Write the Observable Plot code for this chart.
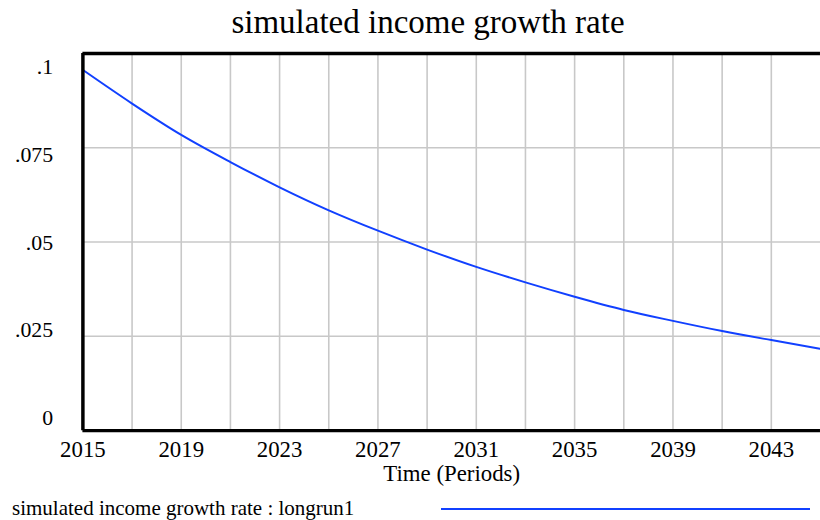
<!DOCTYPE html>
<html>
<head>
<meta charset="utf-8">
<script src="https://cdn.jsdelivr.net/npm/d3@7"></script>
<script src="https://cdn.jsdelivr.net/npm/@observablehq/plot@0.6"></script>
<style>
  html, body { margin: 0; padding: 0; background: #fff; overflow: hidden; }
  #wrap { position: relative; width: 820px; height: 520px; overflow: hidden; font-family: "Liberation Serif", "Times New Roman", serif; color: #000; }
  #title { position: absolute; left: 0; top: 4px; width: 856px; text-align: center; font-size: 33px; white-space: nowrap; }
  #chart { position: absolute; left: 0; top: 40px; }
  #legend-text { position: absolute; left: 12px; top: 496px; font-size: 21px; white-space: nowrap; }
  #legend-line { position: absolute; left: 441px; top: 508px; width: 369px; height: 0; border-top: 2px solid #1140ff; }
</style>
</head>
<body>
<div id="wrap">
  <div id="title"></div>
  <div id="chart"></div>
  <div id="legend-text"></div>
  <div id="legend-line"></div>
</div>
<script>
// ---- data ----
const chartTitle = "simulated income growth rate";
const xLabel = "Time (Periods)";
const seriesLabel = "simulated income growth rate : longrun1";
const years = [2015, 2017, 2019, 2021, 2023, 2025, 2027, 2029, 2031, 2033, 2035, 2037, 2039, 2041, 2043, 2045];
const rate  = [0.0956, 0.0867, 0.0784, 0.0712, 0.0645, 0.0584, 0.0530, 0.0480, 0.0434, 0.0393, 0.0355, 0.0320, 0.0291, 0.0264, 0.0240, 0.0217];
const xTickLabels = [2015, 2019, 2023, 2027, 2031, 2035, 2039, 2043];
const xGridYears = [2017, 2019, 2021, 2023, 2025, 2027, 2029, 2031, 2033, 2035, 2037, 2039, 2041, 2043];
const yTicks = [0, 0.025, 0.05, 0.075, 0.1];
const yTickLabels = ["0", ".025", ".05", ".075", ".1"];
const yGridValues = [0.025, 0.05, 0.075];

const data = years.map((t, i) => ({t, v: rate[i]}));
const lineColor = "#1140ff";
const yMax = 0.1;

document.getElementById("title").textContent = chartTitle;
document.getElementById("legend-text").textContent = seriesLabel;

// y labels are spread evenly inside the frame (as in the reference)
const yLabelMarks = yTicks.map((t, i) => Plot.axisY([t], {
  tickSize: 0,
  tickPadding: 30,
  tickFormat: () => yTickLabels[i],
  dy: -13 + 27 * (t / yMax),
  fontSize: 22,
  label: null
}));

const chart = Plot.plot({
  width: 826,
  height: 452,
  marginLeft: 83,
  marginRight: 0,
  marginTop: 13,
  marginBottom: 59,
  style: { fontFamily: "'Liberation Serif', 'Times New Roman', serif", fontSize: "23px", color: "#000", background: "transparent", overflow: "visible" },
  x: { domain: [2015, 2045], label: null },
  y: { domain: [0, yMax], label: null },
  marks: [
    Plot.gridX(xGridYears, { stroke: "#c8c8c8", strokeOpacity: 1, strokeWidth: 1.6 }),
    Plot.gridY(yGridValues, { stroke: "#c8c8c8", strokeOpacity: 1, strokeWidth: 1.6 }),
    Plot.line(data, { x: "t", y: "v", stroke: lineColor, strokeWidth: 2, curve: "monotone-x" }),
    Plot.ruleX([2015], { stroke: "#000", strokeWidth: 3.5 }),
    Plot.ruleY([0], { stroke: "#000", strokeWidth: 3.5 }),
    Plot.ruleY([yMax], { stroke: "#000", strokeWidth: 3.5 }),
    Plot.axisX(xTickLabels, { tickSize: 0, tickPadding: 10, tickFormat: d => String(d), fontSize: 23, label: null }),
    ...yLabelMarks,
    Plot.text([xLabel], { frameAnchor: "bottom", lineAnchor: "bottom", dy: 51, fontSize: 23, text: d => d })
  ]
});
document.getElementById("chart").appendChild(chart);
</script>
</body>
</html>
